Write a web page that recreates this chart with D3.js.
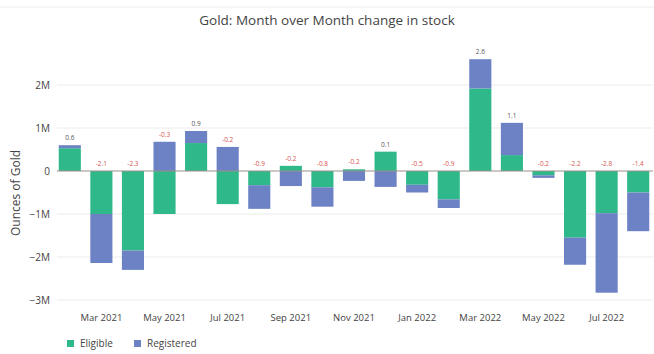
<!DOCTYPE html>
<html><head><meta charset="utf-8">
<script src="https://cdn.jsdelivr.net/npm/d3@7"></script>
<style>body{margin:0;background:#fff}svg{display:block}</style>
</head><body>
<svg id="c" width="654" height="354"></svg>
<script>
const months = ["Feb 2021","Mar 2021","Apr 2021","May 2021","Jun 2021","Jul 2021","Aug 2021","Sep 2021","Oct 2021","Nov 2021","Dec 2021","Jan 2022","Feb 2022","Mar 2022","Apr 2022","May 2022","Jun 2022","Jul 2022","Aug 2022"];
const eligible   = [0.53,-1.00,-1.85,-1.00,0.65,-0.77,-0.33,0.12,-0.38,0.04,0.45,-0.32,-0.66,1.92,0.37,-0.10,-1.55,-0.98,-0.50];
const registered = [0.07,-1.14,-0.45,0.68,0.28,0.56,-0.55,-0.35,-0.45,-0.23,-0.37,-0.18,-0.20,0.68,0.75,-0.06,-0.63,-1.85,-0.90];
const xTicks = ["Mar 2021","May 2021","Jul 2021","Sep 2021","Nov 2021","Jan 2022","Mar 2022","May 2022","Jul 2022"];
const yTicks = [-3,-2,-1,0,1,2];
const seriesNames = ["Eligible","Registered"];
const colors = ["#2fb98b","#6c82c4"];

const svg = d3.select("#c");
const font = "'Open Sans', sans-serif";
const x = d3.scaleBand().domain(months).range([54,654]).paddingInner(0.3).paddingOuter(0.15);
const y = d3.scaleLinear().domain([-3.1,2.9]).range([304.3,46.3]);

svg.append("line").attr("x1",0).attr("x2",654).attr("y1",7).attr("y2",7).attr("stroke","#eee");

// grid
svg.append("g").selectAll("line").data(yTicks.filter(d=>d!==0)).join("line")
  .attr("x1",57).attr("x2",653).attr("y1",d=>y(d)).attr("y2",d=>y(d))
  .attr("stroke","#ebebeb").attr("stroke-width",1);

// y axis labels
const fmt = d => d===0 ? "0" : (d<0?"\u2212":"") + Math.abs(d) + "M";
svg.append("g").selectAll("text").data(yTicks).join("text")
  .attr("x",50).attr("y",d=>y(d)).attr("dy","0.35em").attr("text-anchor","end")
  .attr("font-family",font).attr("font-size",10).attr("fill","#444").text(fmt);

// stacked relative bars
const data = months.map((m,i)=>({m, e:eligible[i], r:registered[i]}));
const rects = [];
data.forEach(d=>{
  let pos=0, neg=0;
  [d.e,d.r].forEach((v,k)=>{
    let y0,y1;
    if(v>=0){y0=pos;y1=pos+v;pos=y1;} else {y0=neg;y1=neg+v;neg=y1;}
    rects.push({m:d.m,k,y0,y1});
  });
  d.pos=pos; d.total=d.e+d.r;
});
svg.append("g").selectAll("rect").data(rects).join("rect")
  .attr("x",d=>x(d.m)).attr("width",x.bandwidth())
  .attr("y",d=>y(Math.max(d.y0,d.y1))).attr("height",d=>Math.abs(y(d.y0)-y(d.y1)))
  .attr("fill",d=>colors[d.k]);

// zero line
svg.append("line").attr("x1",57).attr("x2",653).attr("y1",y(0)).attr("y2",y(0))
  .attr("stroke","#9a8f88").attr("stroke-width",1);

// value labels
svg.append("g").selectAll("text").data(data).join("text")
  .attr("x",d=>x(d.m)+x.bandwidth()/2).attr("y",d=>y(d.pos)-5)
  .attr("text-anchor","middle").attr("font-family",font).attr("font-size",6.5)
  .attr("fill",d=>d.total<0?"#d9534f":"#555")
  .text(d=>d.total.toFixed(1));

// x tick labels
svg.append("g").selectAll("text").data(xTicks).join("text")
  .attr("x",d=>x(d)+x.bandwidth()/2).attr("y",321).attr("text-anchor","middle")
  .attr("font-family",font).attr("font-size",9.5).attr("fill","#444").text(d=>d);

// title
svg.append("text").attr("x",327).attr("y",25).attr("text-anchor","middle")
  .attr("font-family",font).attr("font-size",13.5).attr("fill","#444")
  .text("Gold: Month over Month change in stock");

// y title
svg.append("text").attr("transform","translate(20,193) rotate(-90)").attr("text-anchor","middle")
  .attr("font-family",font).attr("font-size",12).attr("fill","#444").text("Ounces of Gold");

// legend
const lg = svg.append("g");
const lx = [67,134];
seriesNames.forEach((n,i)=>{
  lg.append("rect").attr("x",lx[i]).attr("y",340).attr("width",7).attr("height",7).attr("fill",colors[i]);
  lg.append("text").attr("x",lx[i]+13).attr("y",347).attr("font-family",font).attr("font-size",10)
    .attr("fill","#444").text(n);
});
</script>
</body></html>
